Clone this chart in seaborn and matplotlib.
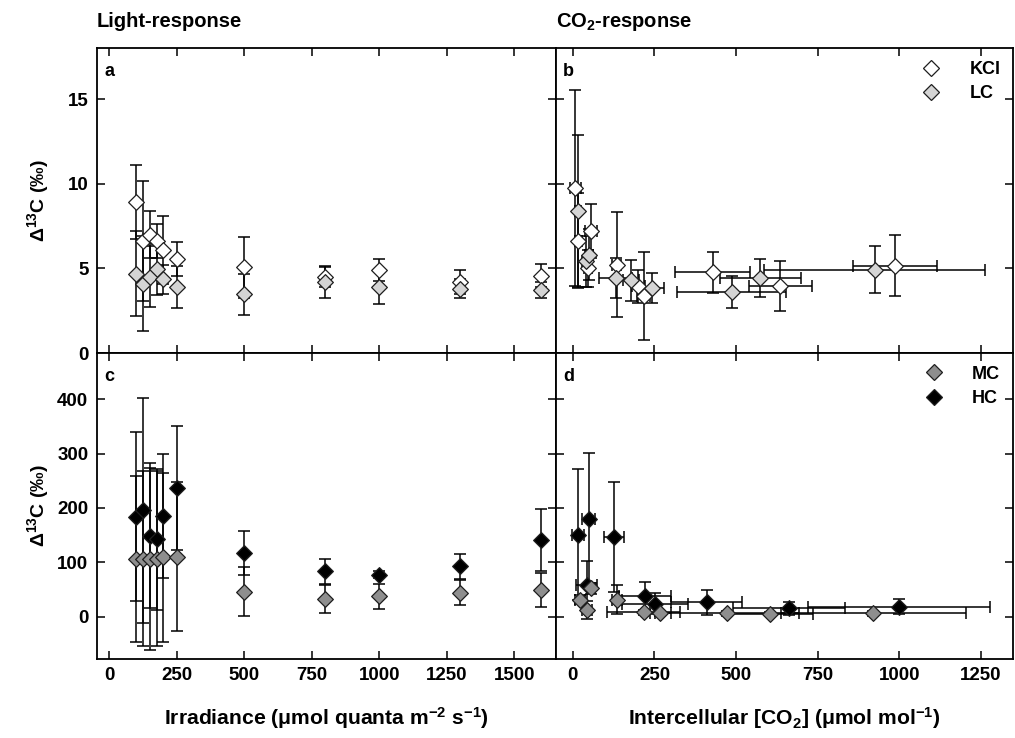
import matplotlib
matplotlib.use("Agg")
import matplotlib.pyplot as plt
from matplotlib.lines import Line2D
import pandas as pd
import seaborn as sns

# ---- Light-response (panels a and c) ----
irradiance = [100, 125, 150, 175, 200, 250, 500, 800, 1000, 1300, 1600]
kcl_light = [8.93, 6.62, 7.0, 6.62, 6.09, 5.57, 5.06, 4.5, 4.9, 4.19, 4.57]
kcl_light_err = [2.2, 3.56, 1.38, 1.0, 2.0, 1.0, 1.8, 0.6, 0.63, 0.7, 0.67]
lc_light = [4.68, 4.09, 4.5, 4.94, 4.35, 3.89, 3.46, 4.19, 3.89, 3.79, 3.7]
lc_light_err = [2.5, 2.8, 1.8, 1.5, 0.85, 1.25, 1.2, 0.95, 0.97, 0.57, 0.48]
mc_light = [106, 106, 106, 106, 109, 110, 46, 32, 37, 44, 49]
mc_light_err = [153, 161, 167, 161, 155, 137, 45, 26, 23, 23, 31]
hc_light = [184, 196, 149, 142, 185, 237, 117, 83, 77, 93, 141]
hc_light_err = [155, 207, 134, 129, 114, 114, 41, 23, 6, 23, 57]

# ---- CO2-response (panels b and d) ----
kcl_ci = [8, 17, 47, 56, 134, 200, 217, 428, 636, 987]
kcl_ci_err = [18, 10, 12, 19, 15, 20, 20, 114, 95, 129]
kcl_co2 = [9.74, 6.63, 5.0, 7.22, 5.21, 3.93, 3.34, 4.76, 3.97, 5.15]
kcl_co2_err = [5.8, 2.8, 1.1, 1.6, 3.1, 1.0, 2.6, 1.2, 1.47, 1.8]

lc_ci = [16, 41, 49, 131, 179, 243, 486, 574, 925]
lc_ci_err = [10, 12, 12, 51, 25, 35, 168, 124, 338]
lc_co2 = [8.4, 5.41, 5.8, 4.43, 4.29, 3.84, 3.6, 4.43, 4.92]
lc_co2_err = [4.5, 1.5, 1.5, 1.2, 1.2, 0.9, 0.93, 1.15, 1.38]

mc_ci = [21, 44, 57, 136, 217, 268, 472, 605, 920]
mc_ci_err = [15, 15, 12, 15, 112, 32, 220, 130, 283]
mc_co2 = [31, 12, 52, 31, 8, 6, 6, 5, 6]
mc_co2_err = [8, 16, 10, 27, 5, 5, 4, 4, 4]

hc_ci = [15, 42, 49, 125, 221, 252, 410, 662, 1000]
hc_ci_err = [18, 32, 20, 31, 80, 100, 109, 172, 279]
hc_co2 = [151, 58, 180, 147, 38, 24, 26, 15, 18]
hc_co2_err = [120, 45, 121, 101, 26, 19, 23, 12, 14]

light_ticks = [0, 250, 500, 750, 1000, 1250, 1500]
co2_ticks = [0, 250, 500, 750, 1000, 1250]
top_yticks = [0, 5, 10, 15]
bottom_yticks = [0, 100, 200, 300, 400]

face = {"KCl": "#ffffff", "LC": "#d4d4d4", "MC": "#8e8e8e", "HC": "#000000"}
edge = "#1e1e1e"

sns.set_style("ticks")
plt.rcParams.update({
    "font.family": ["Liberation Sans", "DejaVu Sans"],
    "font.weight": "bold",
    "mathtext.fontset": "custom",
    "mathtext.rm": "Liberation Sans",
    "mathtext.bf": "Liberation Sans:bold",
    "mathtext.it": "Liberation Sans:italic",
    "axes.linewidth": 1.3,
    "text.color": "black",
    "axes.labelcolor": "black",
    "axes.edgecolor": "black",
    "xtick.color": "black",
    "ytick.color": "black",
})

fig = plt.figure(figsize=(10.15, 7.38), dpi=100)
W, H = 1015.0, 738.0
x_left, x_mid, x_right = 96.7, 555.5, 1013.0
y_top, y_mid, y_bot = 48.3, 353.0, 659.0


def make_axes(x0, x1, y0, y1):
    return fig.add_axes([x0 / W, 1 - y1 / H, (x1 - x0) / W, (y1 - y0) / H])


ax_a = make_axes(x_left, x_mid, y_top, y_mid)
ax_b = make_axes(x_mid, x_right, y_top, y_mid)
ax_c = make_axes(x_left, x_mid, y_mid, y_bot)
ax_d = make_axes(x_mid, x_right, y_mid, y_bot)


def series_frame(name, x, y, yerr, xerr=None):
    return pd.DataFrame({
        "x": x, "y": y, "yerr": yerr,
        "xerr": xerr if xerr is not None else [0] * len(x),
        "series": name,
    })


def draw(ax, frames, with_xerr):
    for df in frames:
        name = df["series"].iloc[0]
        ax.errorbar(df["x"], df["y"], yerr=df["yerr"],
                    xerr=df["xerr"] if with_xerr else None,
                    fmt="none", ecolor="black", elinewidth=1.1,
                    capsize=4.3, capthick=1.1, zorder=2)
        sns.scatterplot(data=df, x="x", y="y", marker="D", s=64,
                        color=face[name], edgecolor=edge, linewidth=0.9,
                        legend=False, ax=ax, zorder=3)


draw(ax_a, [series_frame("KCl", irradiance, kcl_light, kcl_light_err),
            series_frame("LC", irradiance, lc_light, lc_light_err)], False)
draw(ax_c, [series_frame("HC", irradiance, hc_light, hc_light_err),
            series_frame("MC", irradiance, mc_light, mc_light_err)], False)
draw(ax_b, [series_frame("KCl", kcl_ci, kcl_co2, kcl_co2_err, kcl_ci_err),
            series_frame("LC", lc_ci, lc_co2, lc_co2_err, lc_ci_err)], True)
draw(ax_d, [series_frame("HC", hc_ci, hc_co2, hc_co2_err, hc_ci_err),
            series_frame("MC", mc_ci, mc_co2, mc_co2_err, mc_ci_err)], True)

for ax in (ax_a, ax_c):
    ax.set_xlim(-47, 1652)
    ax.set_xticks(light_ticks)
for ax in (ax_b, ax_d):
    ax.set_xlim(-53, 1348)
    ax.set_xticks(co2_ticks)
for ax in (ax_a, ax_b):
    ax.set_ylim(0, 18)
    ax.set_yticks(top_yticks)
for ax in (ax_c, ax_d):
    ax.set_ylim(-78, 485)
    ax.set_yticks(bottom_yticks)

for ax in (ax_a, ax_b, ax_c, ax_d):
    ax.set_xlabel("")
    ax.set_ylabel("")
    for sp in ax.spines.values():
        sp.set_visible(True)
        sp.set_linewidth(1.3)
        sp.set_color("black")
    ax.tick_params(direction="in", length=5.8, width=1.1, color="black",
                   labelcolor="black", top=True, right=True, labelsize=13.5,
                   pad=6)
    for lab in ax.get_xticklabels() + ax.get_yticklabels():
        lab.set_fontweight("bold")

for ax in (ax_a, ax_b):
    ax.tick_params(labelbottom=False)
for ax in (ax_b, ax_d):
    ax.tick_params(labelleft=False)

for ax, letter in zip((ax_a, ax_b, ax_c, ax_d), "abcd"):
    ax.text(0.016, 0.91, letter, transform=ax.transAxes, fontsize=13,
            fontweight="bold", va="baseline", ha="left")

# Thin Delta with bold superscript mass number
ylab = "$\\Delta^{\\mathbf{13}}$C (\u2030)"
for ax in (ax_a, ax_c):
    ax.set_ylabel(ylab, fontsize=14, fontweight="bold")
    ax.yaxis.set_label_coords(-0.10, 0.5)

ax_c.set_xlabel("Irradiance (\u03bcmol quanta m$^{\\mathbf{-2}}$ s$^{\\mathbf{-1}}$)",
                fontsize=15.2, fontweight="bold")
ax_d.set_xlabel("Intercellular [CO$_{\\mathbf{2}}$] (\u03bcmol mol$^{\\mathbf{-1}}$)",
                fontsize=15.2, fontweight="bold")
for ax in (ax_c, ax_d):
    ax.xaxis.set_label_coords(0.5, -0.15)

fig.text(x_left / W, 1 - 27 / H, "Light-response", fontsize=14.5,
         fontweight="bold", va="baseline", ha="left")
fig.text(x_mid / W, 1 - 27 / H, "CO$_{\\mathbf{2}}$-response", fontsize=14.5,
         fontweight="bold", va="baseline", ha="left")


def legend(ax, names):
    handles = [Line2D([], [], ls="none", marker="D", markersize=8.0,
                      markerfacecolor=face[n], markeredgecolor=edge,
                      markeredgewidth=0.9) for n in names]
    ax.legend(handles, names, loc="upper right", frameon=False,
              handlelength=1.0, handletextpad=1.6, labelspacing=0.4,
              borderpad=0.25, borderaxespad=0.45,
              prop={"weight": "bold", "size": 13})


legend(ax_b, ["KCl", "LC"])
legend(ax_d, ["MC", "HC"])

fig.savefig("out.png", dpi=100)
